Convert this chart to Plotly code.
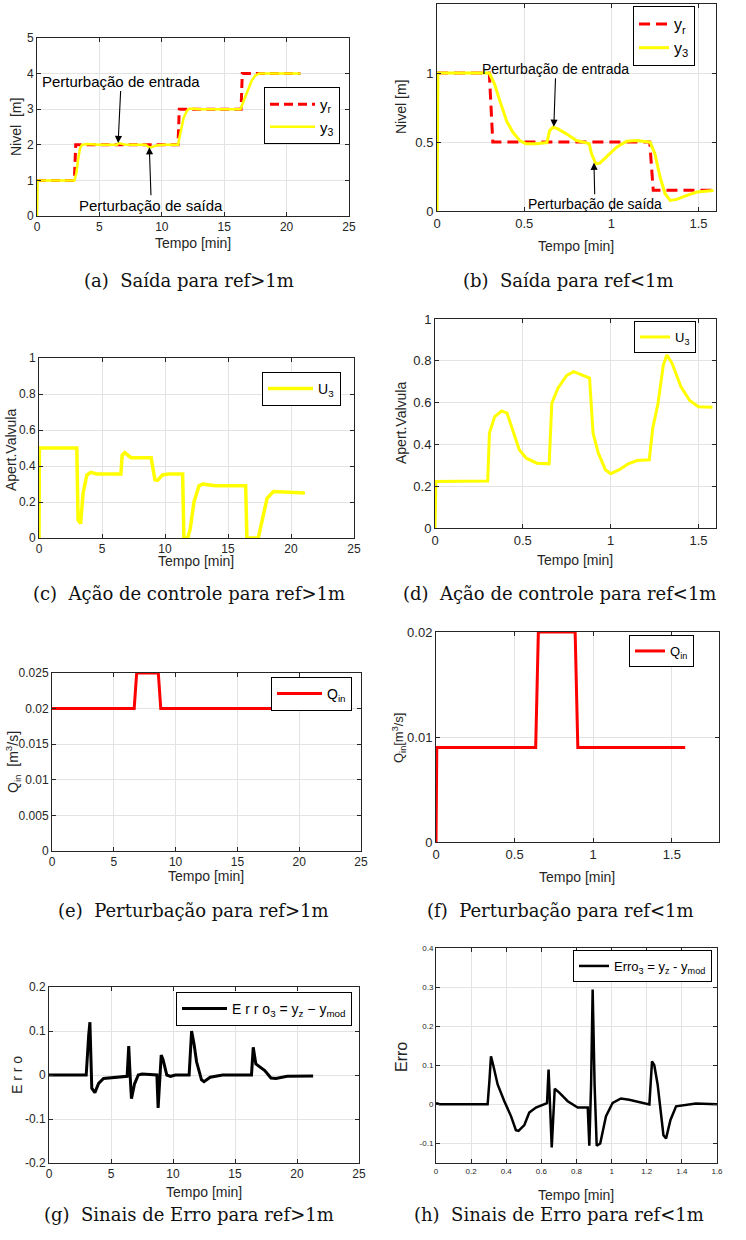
import plotly.graph_objects as go

W, H = 746, 1240

# ---------------- data ----------------
# (a) Saída para ref>1m
a_ref_t = [0, 3.0, 3.1, 11.3, 11.4, 16.35, 16.45, 21.1]
a_ref_y = [1, 1, 2, 2, 3, 3, 4, 4]
a_y3_t = [0, 0.05, 3.0, 3.15, 3.3, 3.45, 3.6, 4.0, 5.0, 6.4, 6.55, 6.7, 7.0, 7.6, 8.7, 8.85, 9.05, 9.3, 9.7, 10.2,
          11.3, 11.5, 11.75, 12.0, 12.2, 12.5, 13.0, 16.3, 16.6, 16.9, 17.2, 17.5, 17.8, 18.2, 21.1]
a_y3_y = [0, 1, 1, 1.2, 1.6, 1.9, 2.0, 2.02, 2.0, 2.0, 2.05, 2.04, 2.01, 2.0, 2.0, 1.96, 1.92, 1.95, 1.99, 2.0,
          2.0, 2.35, 2.75, 2.95, 3.01, 3.01, 3.0, 3.0, 3.25, 3.55, 3.8, 3.95, 4.0, 4.0, 4.0]

# (b) Saída para ref<1m
b_ref_t = [0, 0.30, 0.32, 1.22, 1.24, 1.59]
b_ref_y = [1, 1, 0.5, 0.5, 0.15, 0.15]
b_y3_t = [0, 0.005, 0.30, 0.33, 0.36, 0.40, 0.435, 0.475, 0.51, 0.57, 0.63, 0.646, 0.666, 0.694, 0.742, 0.80,
          0.857, 0.873, 0.886, 0.911, 0.934, 0.972, 1.03, 1.088, 1.145, 1.222, 1.25, 1.279, 1.308, 1.337, 1.375,
          1.433, 1.49, 1.586]
b_y3_y = [0, 1, 1, 0.92, 0.80, 0.65, 0.57, 0.51, 0.487, 0.487, 0.496, 0.583, 0.607, 0.595, 0.559, 0.511,
          0.494, 0.487, 0.414, 0.342, 0.347, 0.39, 0.463, 0.506, 0.511, 0.499, 0.414, 0.246, 0.125, 0.077, 0.084,
          0.113, 0.137, 0.149]

# (c) Ação de controle para ref>1m
c_u3_t = [0, 0.03, 3.0, 3.1, 3.3, 3.5, 3.8, 4.1, 4.6, 6.5, 6.6, 6.8, 7.3, 8.9, 9.2, 9.4, 9.8, 10.3, 11.4, 11.5,
          11.8, 12.0, 12.3, 12.7, 13.0, 14.0, 16.4, 16.5, 17.4, 17.7, 18.1, 18.6, 19.5, 20.0, 21.1]
c_u3_y = [0, 0.5, 0.5, 0.1, 0.08, 0.25, 0.35, 0.365, 0.356, 0.356, 0.46, 0.474, 0.446, 0.446, 0.323, 0.32,
          0.35, 0.356, 0.356, 0.0, 0.0, 0.05, 0.2, 0.29, 0.3, 0.29, 0.29, 0.0, 0.0, 0.1, 0.22, 0.258, 0.255,
          0.25, 0.25]

# (d) Ação de controle para ref<1m
d_u3_t = [0, 0.005, 0.30, 0.31, 0.34, 0.38, 0.41, 0.45, 0.48, 0.52, 0.58, 0.65, 0.665, 0.70, 0.75, 0.79, 0.84,
          0.88, 0.90, 0.93, 0.97, 1.0, 1.05, 1.10, 1.15, 1.22, 1.24, 1.27, 1.30, 1.32, 1.35, 1.40, 1.45, 1.50, 1.58]
d_u3_y = [0, 0.223, 0.225, 0.454, 0.533, 0.56, 0.55, 0.454, 0.374, 0.334, 0.31, 0.307, 0.597, 0.669, 0.73,
          0.748, 0.73, 0.717, 0.454, 0.358, 0.279, 0.26, 0.279, 0.307, 0.323, 0.326, 0.478, 0.597, 0.78, 0.828,
          0.788, 0.677, 0.61, 0.58, 0.578]

# (e) Perturbação para ref>1m
e_q_t = [0, 6.65, 6.85, 8.6, 8.8, 21.3]
e_q_y = [0.02, 0.02, 0.025, 0.025, 0.02, 0.02]

# (f) Perturbação para ref<1m
f_q_t = [0, 0.005, 0.634, 0.651, 0.885, 0.902, 1.585]
f_q_y = [0, 0.009, 0.009, 0.02, 0.02, 0.009, 0.009]

# (g) Sinais de Erro para ref>1m
g_e_t = [0, 3.0, 3.2, 3.3, 3.45, 3.7, 4.0, 4.4, 6.3, 6.43, 6.55, 6.65, 6.9, 7.2, 7.5, 8.7, 8.8, 9.05, 9.2, 9.5,
         9.8, 10.2, 11.3, 11.5, 11.7, 11.9, 12.3, 12.5, 13.0, 14.0, 16.33, 16.47, 16.68, 17.0, 17.4, 17.9, 18.3,
         19.2, 20.0, 21.3]
g_e_y = [0, 0, 0.09, 0.12, -0.03, -0.04, -0.019, -0.008, -0.003, 0.066, -0.005, -0.054, -0.02, 0.0, 0.002, 0,
         -0.075, 0.045, 0.035, 0.0, -0.003, 0, 0, 0.1, 0.07, 0.03, -0.011, -0.015, -0.005, 0, 0, 0.063, 0.025,
         0.018, 0.01, -0.007, -0.008, -0.003, -0.002, -0.002]

# (h) Sinais de Erro para ref<1m
h_e_t = [0, 0.01, 0.02, 0.294, 0.304, 0.313, 0.326, 0.351, 0.389, 0.427, 0.455, 0.47, 0.503, 0.531, 0.569, 0.632,
         0.641, 0.65, 0.659, 0.676, 0.702, 0.75, 0.807, 0.864, 0.873, 0.883, 0.892, 0.903, 0.915, 0.935, 0.968,
         1.006, 1.053, 1.1, 1.15, 1.215, 1.23, 1.243, 1.262, 1.295, 1.31, 1.335, 1.367, 1.4, 1.48, 1.6]
h_e_y = [0.002, 0.002, 0, 0, 0.059, 0.123, 0.1, 0.051, 0.008, -0.03, -0.066, -0.068, -0.053, -0.021, -0.008,
         0.003, 0.089, -0.01, -0.11, 0.04, 0.03, 0.008, -0.008, -0.008, -0.106, 0.05, 0.294, 0.05, -0.106, -0.1,
         -0.03, 0.004, 0.015, 0.012, 0.006, 0.0, 0.11, 0.1, 0.051, -0.079, -0.087, -0.04, -0.005, -0.003, 0.002,
         0.0]

# tick labels
x_ticks_long = [0, 5, 10, 15, 20, 25]
x_ticks_short = [0, 0.5, 1, 1.5]
x_ticks_h = [0, 0.2, 0.4, 0.6, 0.8, 1, 1.2, 1.4, 1.6]
x_ticks_h_text = ["0", "0.2", "0.4", "0.6", "0.8", "1", "1.2", "1.4", "1.6"]
y_ticks_a = [0, 1, 2, 3, 4, 5]
y_ticks_b = [0, 0.5, 1]
y_ticks_cd = [0, 0.2, 0.4, 0.6, 0.8, 1]
y_ticks_cd_text = ["0", "0.2", "0.4", "0.6", "0.8", "1"]
y_ticks_e = [0, 0.005, 0.01, 0.015, 0.02, 0.025]
y_ticks_e_text = ["0", "0.005", "0.01", "0.015", "0.02", "0.025"]
y_ticks_f = [0, 0.01, 0.02]
y_ticks_f_text = ["0", "0.01", "0.02"]
y_ticks_g = [-0.2, -0.1, 0, 0.1, 0.2]
y_ticks_g_text = ["-0.2", "-0.1", "0", "0.1", "0.2"]
y_ticks_h = [-0.1, 0, 0.1, 0.2, 0.3, 0.4]
y_ticks_h_text = ["-0.1", "0", "0.1", "0.2", "0.3", "0.4"]

captions = ["(a)  Saída para ref>1m", "(b)  Saída para ref<1m",
            "(c)  Ação de controle para ref>1m", "(d)  Ação de controle para ref<1m",
            "(e)  Perturbação para ref>1m", "(f)  Perturbação para ref<1m",
            "(g)  Sinais de Erro para ref>1m", "(h)  Sinais de Erro para ref<1m"]

# arrows (tip points in data units)
a_in_tip = (6.5, 2.05)
a_out_tip = (9.0, 1.93)
b_in_tip = (0.67, 0.61)
b_out_tip = (0.9, 0.35)

# ---------------- layout helpers ----------------
SANS = "Liberation Sans, Arial, sans-serif"
SERIF = "DejaVu Serif, serif"
AXC = "#262626"
GRID = "#e3e3e3"

# panel: (x0, x1, y0, y1) pixels, xrange, yrange, xticks, xtext, yticks, ytext, tickfont size
panels = [
    ((37, 349, 38, 216), [0, 25], [0, 5], x_ticks_long, None, y_ticks_a, None, 12),
    ((437, 716, 4, 211), [0, 1.6], [0, 1.5], x_ticks_short, None, y_ticks_b, None, 13),
    ((39, 354, 358, 538), [0, 25], [0, 1], x_ticks_long, None, y_ticks_cd, y_ticks_cd_text, 12),
    ((435, 716, 319, 528), [0, 1.6], [0, 1], x_ticks_short, None, y_ticks_cd, y_ticks_cd_text, 13),
    ((52, 361, 673, 851), [0, 25], [0, 0.025], x_ticks_long, None, y_ticks_e, y_ticks_e_text, 12),
    ((436, 719, 632, 842), [0, 1.8], [0, 0.02], x_ticks_short, None, y_ticks_f, y_ticks_f_text, 13),
    ((49, 359, 987, 1163), [0, 25], [-0.2, 0.2], x_ticks_long, None, y_ticks_g, y_ticks_g_text, 12),
    ((436, 717, 948, 1163), [0, 1.6], [-0.15, 0.4], x_ticks_h, x_ticks_h_text, y_ticks_h, y_ticks_h_text, 8),
]

fig = go.Figure()
layout = dict(width=W, height=H, margin=dict(l=0, r=0, t=0, b=0, autoexpand=False),
              paper_bgcolor="white", plot_bgcolor="white", showlegend=True)

for i, (box, xr, yr, xt, xtt, yt, ytt, fs) in enumerate(panels):
    s = "" if i == 0 else str(i + 1)
    x0, x1, y0, y1 = box
    common = dict(showgrid=True, gridcolor=GRID, gridwidth=1, zeroline=False,
                  showline=True, linecolor=AXC, linewidth=1, mirror="ticks",
                  ticks="inside", ticklen=4, tickcolor=AXC,
                  tickfont=dict(family=SANS, size=fs, color=AXC), fixedrange=True)
    xa = dict(common, domain=[x0 / W, x1 / W], range=xr, anchor="y" + s, tickvals=xt)
    if xtt:
        xa["ticktext"] = xtt
    ya = dict(common, domain=[1 - y1 / H, 1 - y0 / H], range=yr, anchor="x" + s, tickvals=yt)
    if ytt:
        ya["ticktext"] = ytt
    layout["xaxis" + s] = xa
    layout["yaxis" + s] = ya

# ---------------- traces ----------------
def add(x, y, name, color, width, axis, legend, dash=None):
    fig.add_trace(go.Scatter(x=x, y=y, mode="lines", name=name,
                             line=dict(color=color, width=width, dash=dash),
                             xaxis="x" + axis, yaxis="y" + axis, legend=legend))

add(a_ref_t, a_ref_y, "y<sub>r</sub>", "#ff0000", 3, "", "legend", dash="9px,5px")
add(a_y3_t, a_y3_y, "y<sub>3</sub>", "#ffff00", 2.5, "", "legend")
add(b_ref_t, b_ref_y, "y<sub>r</sub>", "#ff0000", 3, "2", "legend2", dash="11px,6px")
add(b_y3_t, b_y3_y, "y<sub>3</sub>", "#ffff00", 3, "2", "legend2")
add(c_u3_t, c_u3_y, "U<sub>3</sub>", "#ffff00", 3.5, "3", "legend3")
add(d_u3_t, d_u3_y, "U<sub>3</sub>", "#ffff00", 3, "4", "legend4")
add(e_q_t, e_q_y, "Q<sub>in</sub>", "#ff0000", 3, "5", "legend5")
add(f_q_t, f_q_y, "Q<sub>in</sub>", "#ff0000", 3, "6", "legend6")
add(g_e_t, g_e_y, "E r r o<sub>3</sub> = y<sub>z</sub> − y<sub>mod</sub>", "#000000", 3, "7", "legend7")
add(h_e_t, h_e_y, "Erro<sub>3</sub> = y<sub>z</sub> - y<sub>mod</sub>", "#000000", 2.5, "8", "legend8")

# legends: (right px, top px, font size, item width)
leg_pos = [(340, 87, 15, 45), (695, 6, 16, 30), (341, 372, 14, 45), (696, 321, 13, 30),
           (352, 677, 14, 45), (694, 635, 13, 30), (352, 992, 14, 45), (712, 950, 13, 30)]
for i, (r, t, fs, iw) in enumerate(leg_pos):
    key = "legend" if i == 0 else "legend" + str(i + 1)
    layout[key] = dict(x=r / W, y=1 - t / H, xanchor="right", yanchor="top",
                       bgcolor="white", bordercolor="#000000", borderwidth=1,
                       font=dict(family=SANS, size=fs, color="#000000"),
                       itemwidth=iw, tracegroupgap=0)

fig.update_layout(**layout)

# ---------------- text annotations ----------------
ann = []

def ptext(x, y, text, size, family=SANS, angle=0, color=AXC):
    ann.append(dict(xref="paper", yref="paper", x=x / W, y=1 - y / H, text=text, showarrow=False,
                    xanchor="center", yanchor="middle", textangle=angle,
                    font=dict(family=family, size=size, color=color)))

# x-axis titles
for (cx, cy, fs) in [(193, 243, 14), (576, 246, 14), (196, 561, 14), (575, 560, 14),
                     (206, 876, 14), (577, 877, 14), (204, 1192, 14), (576, 1195, 14)]:
    ptext(cx, cy, "Tempo [min]", fs)

# y-axis titles
ptext(16, 127, "Nivel  [m]", 14, angle=-90)
ptext(401, 107, "Nivel [m]", 14, angle=-90)
ptext(11, 450, "Apert.Valvula", 14, angle=-90)
ptext(401, 423, "Apert.Valvula", 14, angle=-90)
ptext(13, 762, "Q<sub>in</sub>  [m<sup>3</sup>/s]", 14, angle=-90)
ptext(399, 738, "Q<sub>in</sub>[m<sup>3</sup>/s]", 13, angle=-90)
ptext(17, 1075, "E r r o", 14, angle=-90)
ptext(401, 1057, "Erro", 16, angle=-90)

# captions
for text, cx, cy in [(captions[0], 189, 281), (captions[1], 568, 281),
                     (captions[2], 189, 593), (captions[3], 559, 593),
                     (captions[4], 193, 910), (captions[5], 560, 910),
                     (captions[6], 189, 1214), (captions[7], 559, 1214)]:
    ptext(cx, cy, text, 18, family=SERIF, color="#111111")

# arrows with labels
def arrow(tip, axis, text, ax, ay, size):
    ann.append(dict(x=tip[0], y=tip[1], xref="x" + axis, yref="y" + axis, text=text,
                    showarrow=True, arrowhead=2, arrowsize=1.3, arrowwidth=1.1, arrowcolor="#000000",
                    ax=ax, ay=ay, standoff=0, font=dict(family=SANS, size=size, color="#000000")))

arrow(a_in_tip, "", "Perturbação de entrada", 3, -62, 15)
arrow(a_out_tip, "", "Perturbação de saída", 2, 58, 15)
arrow(b_in_tip, "2", "Perturbação de entrada", 2, -58, 14)
arrow(b_out_tip, "2", "Perturbação de saída", 1, 41, 14)

fig.update_layout(annotations=ann)
fig.write_html("out.html", config={"displayModeBar": False},
               post_script="document.body.style.margin='0';document.body.style.overflow='hidden';")
